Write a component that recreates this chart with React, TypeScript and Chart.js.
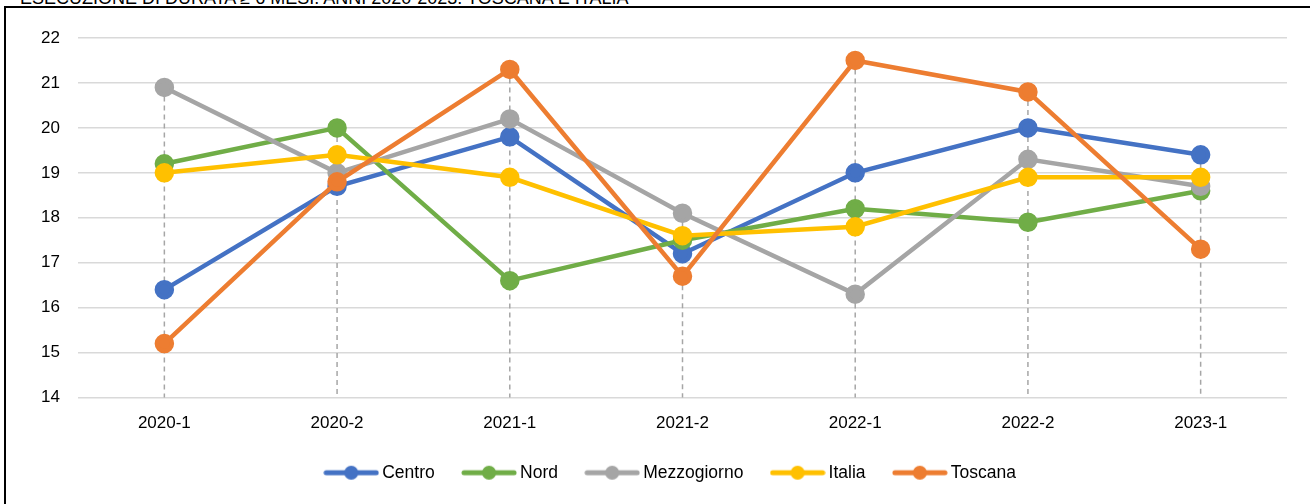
import React, { useEffect, useRef } from "react";
import { Chart, registerables } from "chart.js";

Chart.register(...registerables);

const TITLE = "ESECUZIONE DI DURATA ≥ 6 MESI. ANNI 2020-2023. TOSCANA E ITALIA";
const categories = ["2020-1", "2020-2", "2021-1", "2021-2", "2022-1", "2022-2", "2023-1"];
const centro = [16.4, 18.7, 19.8, 17.2, 19.0, 20.0, 19.4];
const nord = [19.2, 20.0, 16.6, 17.5, 18.2, 17.9, 18.6];
const mezzogiorno = [20.9, 19.0, 20.2, 18.1, 16.3, 19.3, 18.7];
const italia = [19.0, 19.4, 18.9, 17.6, 17.8, 18.9, 18.9];
const toscana = [15.2, 18.8, 21.3, 16.7, 21.5, 20.8, 17.3];
const seriesNames = ["Centro", "Nord", "Mezzogiorno", "Italia", "Toscana"];
const seriesValues = [centro, nord, mezzogiorno, italia, toscana];
const seriesColors = ["#4472C4", "#70AD47", "#A5A5A5", "#FFC000", "#ED7D31"];
const yTicks = [14, 15, 16, 17, 18, 19, 20, 21, 22];

const FONT = "'Liberation Sans', Arial, sans-serif";

function makeLegendIcon(color: string): HTMLCanvasElement {
  const c = document.createElement("canvas");
  c.width = 56;
  c.height = 16;
  const ctx = c.getContext("2d")!;
  ctx.strokeStyle = color;
  ctx.lineWidth = 5;
  ctx.lineCap = "round";
  ctx.beginPath();
  ctx.moveTo(3, 8);
  ctx.lineTo(53, 8);
  ctx.stroke();
  ctx.fillStyle = color;
  ctx.beginPath();
  ctx.arc(28, 8, 7, 0, Math.PI * 2);
  ctx.fill();
  return c;
}

const dropLines = {
  id: "dropLines",
  beforeDatasetsDraw(chart: any) {
    const { ctx, chartArea, scales } = chart;
    const x = scales.x;
    const y = scales.y;
    ctx.save();
    ctx.strokeStyle = "#A6A6A6";
    ctx.lineWidth = 1.5;
    ctx.setLineDash([5, 4]);
    categories.forEach((_, i) => {
      const maxVal = Math.max(...seriesValues.map((s) => s[i]));
      const px = x.getPixelForValue(i);
      ctx.beginPath();
      ctx.moveTo(px, y.getPixelForValue(maxVal));
      ctx.lineTo(px, chartArea.bottom);
      ctx.stroke();
    });
    ctx.restore();
  },
};

const shiftLegend = {
  id: "shiftLegend",
  afterLayout(chart: any) {
    if (chart.legend) {
      chart.legend.left += 58;
    }
  },
};

export default function App() {
  const ref = useRef<HTMLCanvasElement>(null);
  useEffect(() => {
    const icons = seriesColors.map(makeLegendIcon);
    const chart = new Chart(ref.current!, {
      type: "line",
      data: {
        labels: categories,
        datasets: seriesNames.map((name, i) => ({
          label: name,
          data: seriesValues[i],
          borderColor: seriesColors[i],
          backgroundColor: seriesColors[i],
          pointBackgroundColor: seriesColors[i],
          pointBorderColor: seriesColors[i],
          borderWidth: 4.5,
          pointRadius: 7.5,
          pointHoverRadius: 7.5,
          pointStyle: "circle",
          tension: 0,
          order: seriesNames.length - i,
        })) as any,
      },
      options: {
        animation: false,
        responsive: false,
        maintainAspectRatio: false,
        layout: { padding: { left: 0, right: 23, top: 38, bottom: 12.5 } },
        scales: {
          x: {
            offset: true,
            grid: { display: false, drawTicks: false },
            border: { display: false },
            ticks: { color: "#000", font: { family: FONT, size: 17 }, padding: 16 },
            afterFit: (s: any) => {
              s.height = 34.5;
            },
          },
          y: {
            min: 14,
            max: 22,
            afterBuildTicks: (s: any) => {
              s.ticks = yTicks.map((v) => ({ value: v }));
            },
            grid: { color: "#D9D9D9", lineWidth: 1.5, drawTicks: false },
            border: { display: false },
            ticks: { color: "#000", font: { family: FONT, size: 17 }, padding: 18 },
            afterFit: (s: any) => {
              s.width = 78;
            },
          },
        },
        plugins: {
          legend: {
            position: "bottom",
            labels: {
              usePointStyle: true,
              pointStyleWidth: 44.5,
              color: "#000",
              font: { family: FONT, size: 17.5 },
              padding: 32,
              generateLabels: () =>
                seriesNames.map((n, i) => ({
                  text: n,
                  datasetIndex: i,
                  pointStyle: icons[i],
                  fillStyle: seriesColors[i],
                  strokeStyle: seriesColors[i],
                  lineWidth: 0,
                  hidden: false,
                  fontColor: "#000",
                })),
            },
          },
          tooltip: { enabled: false },
          title: { display: false },
        },
      },
      plugins: [dropLines, shiftLegend],
    });
    return () => chart.destroy();
  }, []);

  return (
    <div
      style={{
        position: "fixed",
        left: 0,
        top: 0,
        width: 1310,
        height: 504,
        overflow: "hidden",
        background: "#fff",
      }}
    >
      <div
        style={{
          position: "absolute",
          left: 20,
          top: -11,
          fontFamily: FONT,
          fontSize: 18,
          lineHeight: "18px",
          color: "#000",
          whiteSpace: "nowrap",
        }}
      >
        {TITLE}
      </div>
      <div
        style={{
          position: "absolute",
          left: 4,
          top: 6,
          width: 1400,
          height: 600,
          border: "2px solid #000",
        }}
      />
      <canvas
        ref={ref}
        width={1310}
        height={504}
        style={{ position: "absolute", left: 0, top: 0 }}
      />
    </div>
  );
}
